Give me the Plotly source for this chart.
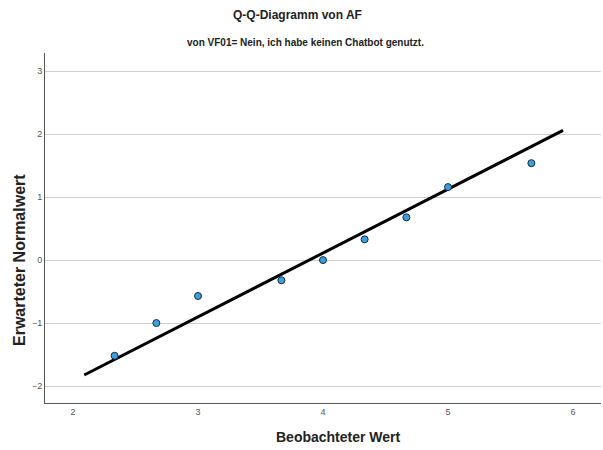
import plotly.graph_objects as go

obs_x = [2.333, 2.667, 3.0, 3.667, 4.0, 4.333, 4.667, 5.0, 5.667]
expected_y = [-1.52, -1.0, -0.57, -0.32, 0.0, 0.33, 0.68, 1.16, 1.54]
line_x = [2.09, 5.92]
line_y = [-1.825, 2.06]
x_ticks = [2, 3, 4, 5, 6]
y_ticks = [-2, -1, 0, 1, 2, 3]

FONT = "Liberation Sans Narrow, Arial Narrow, Liberation Sans, Arial, sans-serif"
L, R, T, B = 45, 2, 53, 47
W, H = 603, 450
PW, PH = W - L - R, H - T - B


def px_x(px):
    return (px - L) / PW


def px_y(py):
    return 1 - (py - T) / PH


fig = go.Figure()
fig.add_trace(go.Scatter(x=line_x, y=line_y, mode="lines",
                         line=dict(color="black", width=3), hoverinfo="skip"))
fig.add_trace(go.Scatter(x=obs_x, y=expected_y, mode="markers",
                         marker=dict(color="#3aa0e0", size=7,
                                     line=dict(color="#1a2a3a", width=1))))

fig.update_layout(
    width=W, height=H,
    margin=dict(l=L, r=R, t=T, b=B, autoexpand=False),
    paper_bgcolor="white", plot_bgcolor="white",
    showlegend=False,
    font=dict(family=FONT, color="#222"),
    annotations=[
        dict(text="<b>Q-Q-Diagramm von AF</b>", x=px_x(297), y=px_y(15),
             xref="paper", yref="paper", showarrow=False, yanchor="middle",
             font=dict(size=12, family=FONT, color="#222")),
        dict(text="<b>von VF01= Nein, ich habe keinen Chatbot genutzt.</b>",
             x=px_x(305), y=px_y(42), xref="paper", yref="paper",
             showarrow=False, yanchor="middle",
             font=dict(size=10, family=FONT, color="#222")),
        dict(text="<b>Beobachteter Wert</b>", x=px_x(338), y=px_y(437),
             xref="paper", yref="paper", showarrow=False, yanchor="middle",
             font=dict(size=14, family=FONT, color="#222")),
        dict(text="<b>Erwarteter Normalwert</b>", x=px_x(19), y=px_y(260),
             xref="paper", yref="paper", showarrow=False, textangle=-90,
             xanchor="center", yanchor="middle",
             font=dict(size=16, family=FONT, color="#222")),
    ],
)

fig.update_xaxes(range=[1.776, 6.224], tickvals=x_ticks, showgrid=False,
                 showline=True, linecolor="#555", linewidth=1, ticks="",
                 ticklen=0, tickfont=dict(size=9, color="#555", family=FONT),
                 automargin=False, zeroline=False)
fig.update_yaxes(range=[-2.27, 3.29], tickvals=y_ticks, showgrid=True,
                 gridcolor="#cfcfcf", gridwidth=1,
                 showline=True, linecolor="#555", linewidth=1, ticks="",
                 tickfont=dict(size=9, color="#555", family=FONT),
                 automargin=False, zeroline=False)

fig.write_html("out.html", config={"displayModeBar": False},
               post_script="document.body.style.margin='0';document.body.style.overflow='hidden';")
